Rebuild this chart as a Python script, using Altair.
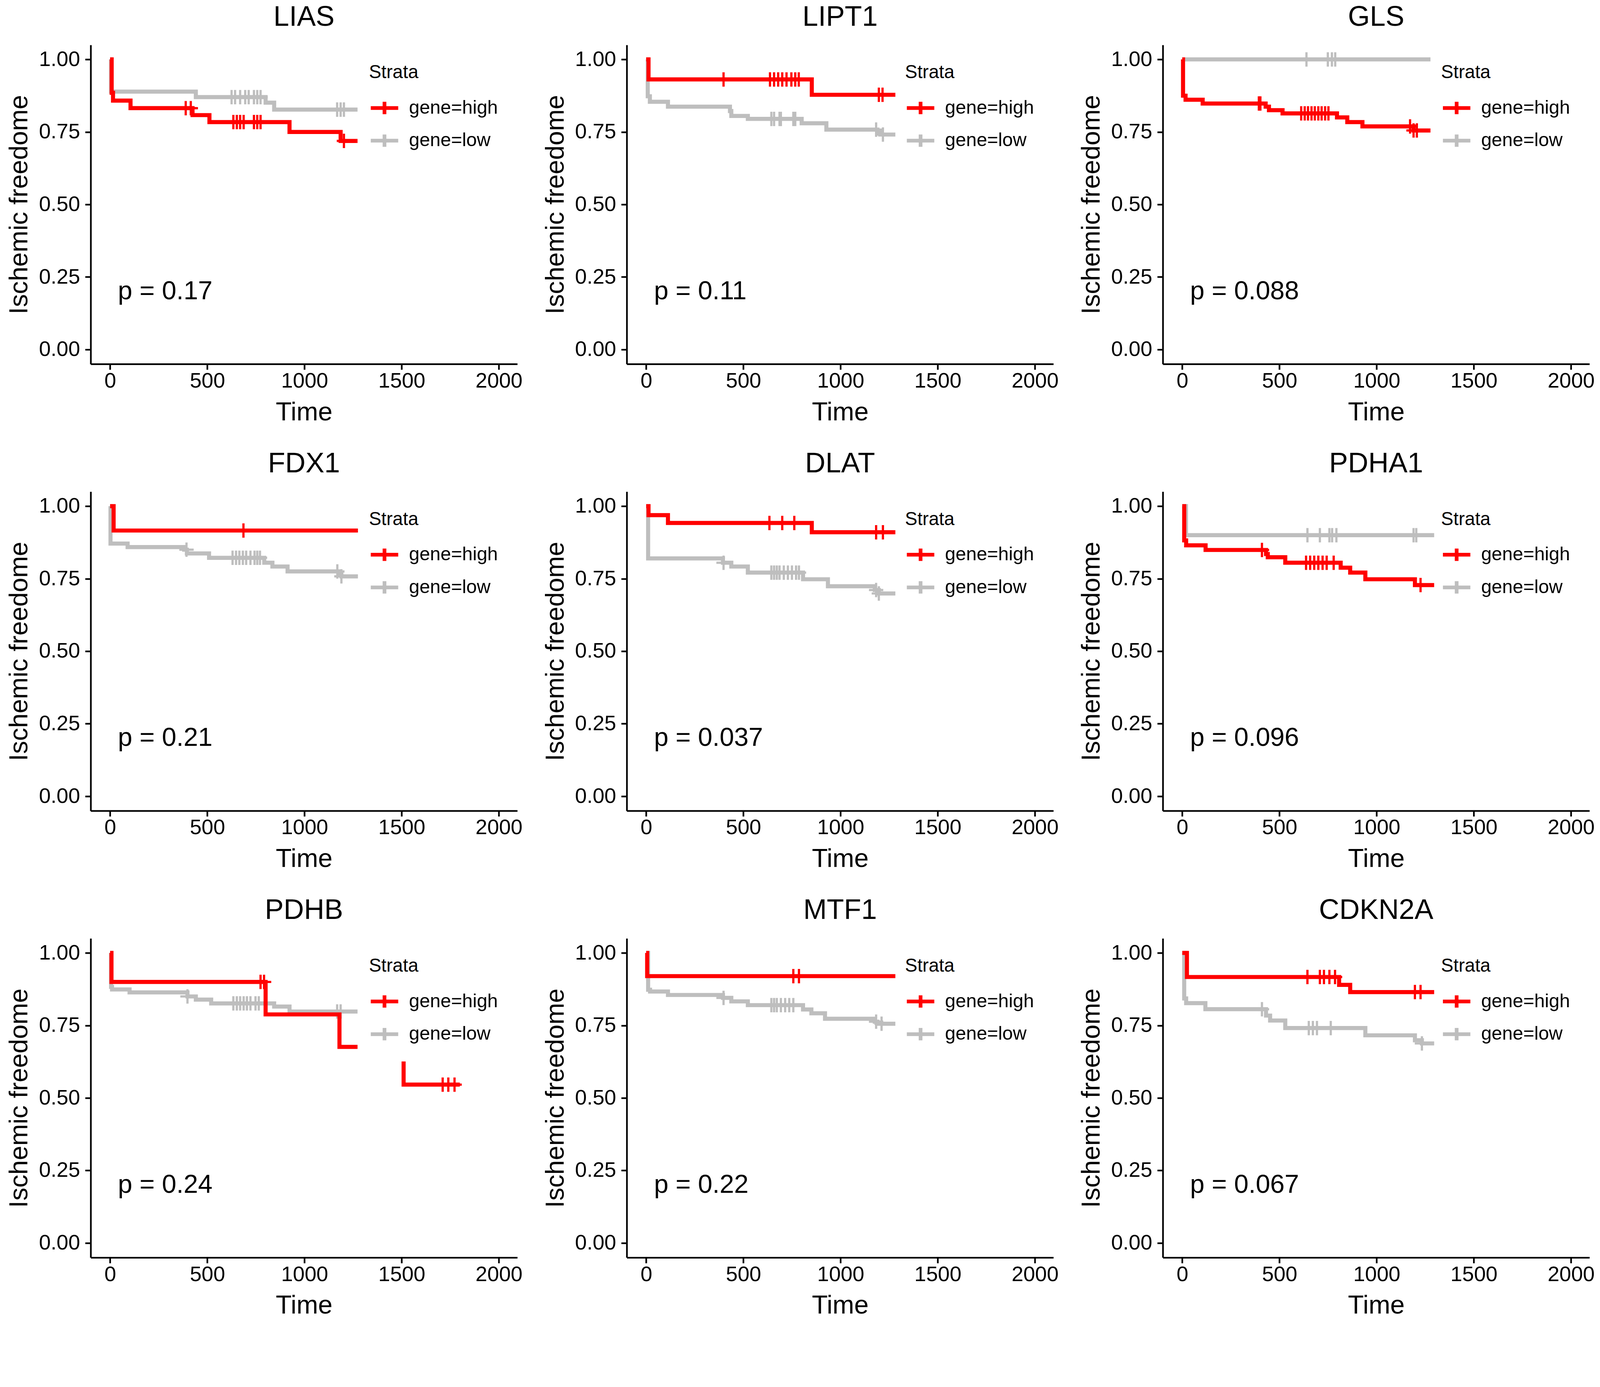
import altair as alt
import pandas as pd

FONT = "Liberation Sans"
GENES = ["LIAS", "LIPT1", "GLS", "FDX1", "DLAT", "PDHA1", "PDHB", "MTF1", "CDKN2A"]
P_LABELS = ["p = 0.17", "p = 0.11", "p = 0.088", "p = 0.21", "p = 0.037",
            "p = 0.096", "p = 0.24", "p = 0.22", "p = 0.067"]
STRATA = ["gene=high", "gene=low"]
COLORS = ["#FF0000", "#BEBEBE"]
X_TICKS = [0, 500, 1000, 1500, 2000]
Y_TICKS = [0, 0.25, 0.5, 0.75, 1.0]
PVAL_X = 40
PVAL_Y = 0.2

# ---- Kaplan-Meier step curves (visible parts), change points: time / survival ----
LIAS_HIGH_T = [0, 8, 15, 105, 424, 511, 923, 1186, 1273]
LIAS_HIGH_S = [1.0, 0.885, 0.858, 0.832, 0.808, 0.784, 0.750, 0.719, 0.719]
LIAS_HIGH_C = [389, 415, 634, 652, 669, 687, 740, 757, 774, 1203]
LIAS_LOW_T = [0, 5, 441, 800, 844, 1273]
LIAS_LOW_S = [1.0, 0.889, 0.870, 0.851, 0.827, 0.827]
LIAS_LOW_C = [625, 643, 669, 695, 713, 740, 757, 774, 1168, 1186, 1203]

LIPT1_HIGH_T = [0, 12, 852, 1282]
LIPT1_HIGH_S = [1.0, 0.931, 0.878, 0.878]
LIPT1_HIGH_C = [398, 637, 658, 679, 700, 722, 747, 767, 785, 1197, 1216]
LIPT1_LOW_T = [0, 8, 19, 112, 431, 438, 523, 800, 927, 1190, 1204, 1282]
LIPT1_LOW_S = [1.0, 0.873, 0.854, 0.837, 0.822, 0.805, 0.795, 0.780, 0.758, 0.750, 0.741, 0.741]
LIPT1_LOW_C = [644, 658, 686, 693, 757, 767, 1183, 1218]

GLS_HIGH_T = [0, 4, 17, 105, 429, 446, 516, 796, 849, 927, 1190, 1277]
GLS_HIGH_S = [1.0, 0.875, 0.861, 0.848, 0.837, 0.825, 0.814, 0.800, 0.784, 0.769, 0.755, 0.755]
GLS_HIGH_C = [394, 402, 612, 630, 647, 665, 682, 700, 717, 735, 752, 1172, 1190, 1207]
GLS_LOW_T = [0, 1277]
GLS_LOW_S = [1.0, 1.0]
GLS_LOW_C = [639, 749, 770, 787]

FDX1_HIGH_T = [0, 18, 1275]
FDX1_HIGH_S = [1.0, 0.916, 0.916]
FDX1_HIGH_C = [686]
FDX1_LOW_T = [0, 2, 90, 381, 395, 509, 793, 835, 913, 1176, 1190, 1275]
FDX1_LOW_S = [1.0, 0.871, 0.859, 0.850, 0.837, 0.822, 0.805, 0.792, 0.775, 0.767, 0.758, 0.758]
FDX1_LOW_C = [393, 630, 648, 665, 683, 700, 722, 743, 757, 771, 1169, 1190]

DLAT_HIGH_T = [0, 12, 112, 852, 1282]
DLAT_HIGH_S = [1.0, 0.969, 0.942, 0.910, 0.910]
DLAT_HIGH_C = [634, 700, 762, 1183, 1218]
DLAT_LOW_T = [0, 10, 395, 438, 523, 807, 935, 1176, 1197, 1282]
DLAT_LOW_S = [1.0, 0.820, 0.805, 0.792, 0.771, 0.748, 0.724, 0.711, 0.699, 0.699]
DLAT_LOW_C = [398, 644, 658, 672, 686, 708, 729, 750, 771, 786, 1183, 1197]

PDHA1_HIGH_T = [0, 10, 20, 120, 431, 440, 530, 815, 864, 942, 1197, 1296]
PDHA1_HIGH_S = [1.0, 0.882, 0.865, 0.849, 0.835, 0.824, 0.805, 0.788, 0.771, 0.748, 0.728, 0.728]
PDHA1_HIGH_C = [410, 637, 658, 679, 700, 722, 743, 779, 1226]
PDHA1_LOW_T = [0, 19, 1296]
PDHA1_LOW_S = [1.0, 0.900, 0.900]
PDHA1_LOW_C = [644, 708, 757, 771, 793, 1190, 1204]

PDHB_HIGH_T = [0, 7, 800, 1180, 1273]
PDHB_HIGH_S = [1.0, 0.900, 0.788, 0.676, 0.676]
PDHB_HIGH_T2 = [1510, 1510, 1799]
PDHB_HIGH_S2 = [0.626, 0.546, 0.546]
PDHB_HIGH_C = [774, 792, 1711, 1740, 1772]
PDHB_LOW_T = [0, 5, 10, 100, 398, 441, 520, 844, 923, 1273]
PDHB_LOW_S = [1.0, 0.883, 0.874, 0.864, 0.850, 0.839, 0.826, 0.815, 0.798, 0.798]
PDHB_LOW_C = [398, 634, 652, 669, 687, 704, 722, 748, 765, 1168, 1186]

MTF1_HIGH_T = [0, 5, 1282]
MTF1_HIGH_S = [1.0, 0.920, 0.920]
MTF1_HIGH_C = [757, 786]
MTF1_LOW_T = [0, 10, 20, 112, 395, 438, 523, 807, 850, 920, 1176, 1190, 1282]
MTF1_LOW_S = [1.0, 0.873, 0.867, 0.855, 0.845, 0.833, 0.820, 0.805, 0.792, 0.773, 0.763, 0.756, 0.756]
MTF1_LOW_C = [398, 644, 658, 672, 693, 715, 736, 757, 1183, 1211]

CDKN2A_HIGH_T = [0, 24, 807, 864, 1296]
CDKN2A_HIGH_S = [1.0, 0.917, 0.890, 0.865, 0.865]
CDKN2A_HIGH_C = [644, 708, 729, 757, 786, 1197, 1226]
CDKN2A_LOW_T = [0, 10, 20, 119, 431, 452, 530, 942, 1197, 1233, 1296]
CDKN2A_LOW_S = [1.0, 0.843, 0.827, 0.806, 0.784, 0.767, 0.741, 0.716, 0.699, 0.688, 0.688]
CDKN2A_LOW_C = [410, 651, 672, 693, 764, 1233]

CURVES = {
    "LIAS": [(LIAS_HIGH_T, LIAS_HIGH_S, LIAS_HIGH_C, [], []), (LIAS_LOW_T, LIAS_LOW_S, LIAS_LOW_C, [], [])],
    "LIPT1": [(LIPT1_HIGH_T, LIPT1_HIGH_S, LIPT1_HIGH_C, [], []), (LIPT1_LOW_T, LIPT1_LOW_S, LIPT1_LOW_C, [], [])],
    "GLS": [(GLS_HIGH_T, GLS_HIGH_S, GLS_HIGH_C, [], []), (GLS_LOW_T, GLS_LOW_S, GLS_LOW_C, [], [])],
    "FDX1": [(FDX1_HIGH_T, FDX1_HIGH_S, FDX1_HIGH_C, [], []), (FDX1_LOW_T, FDX1_LOW_S, FDX1_LOW_C, [], [])],
    "DLAT": [(DLAT_HIGH_T, DLAT_HIGH_S, DLAT_HIGH_C, [], []), (DLAT_LOW_T, DLAT_LOW_S, DLAT_LOW_C, [], [])],
    "PDHA1": [(PDHA1_HIGH_T, PDHA1_HIGH_S, PDHA1_HIGH_C, [], []), (PDHA1_LOW_T, PDHA1_LOW_S, PDHA1_LOW_C, [], [])],
    "PDHB": [(PDHB_HIGH_T, PDHB_HIGH_S, PDHB_HIGH_C, PDHB_HIGH_T2, PDHB_HIGH_S2), (PDHB_LOW_T, PDHB_LOW_S, PDHB_LOW_C, [], [])],
    "MTF1": [(MTF1_HIGH_T, MTF1_HIGH_S, MTF1_HIGH_C, [], []), (MTF1_LOW_T, MTF1_LOW_S, MTF1_LOW_C, [], [])],
    "CDKN2A": [(CDKN2A_HIGH_T, CDKN2A_HIGH_S, CDKN2A_HIGH_C, [], []), (CDKN2A_LOW_T, CDKN2A_LOW_S, CDKN2A_LOW_C, [], [])],
}


def surv_at(t, ts, ss):
    val = ss[0]
    for ti, si in zip(ts, ss):
        if ti <= t:
            val = si
    return val


line_rows, cens_rows = [], []
for gene in GENES:
    for strata, (ts, ss, cs, ts2, ss2) in zip(STRATA, CURVES[gene]):
        for t, s in zip(ts, ss):
            line_rows.append({"gene": gene, "strata": strata, "seg": 1, "time": t, "surv": s})
        for t, s in zip(ts2, ss2):
            line_rows.append({"gene": gene, "strata": strata, "seg": 2, "time": t, "surv": s})
        all_t, all_s = ts + ts2, ss + ss2
        for c in cs:
            cens_rows.append({"gene": gene, "strata": strata, "time": c, "surv": surv_at(c, all_t, all_s)})

lines_df = pd.DataFrame(line_rows)
cens_df = pd.DataFrame(cens_rows)
p_df = pd.DataFrame({"gene": GENES, "label": P_LABELS,
                     "time": [PVAL_X] * len(GENES), "surv": [PVAL_Y] * len(GENES)})

PLUS = "M0,-1L0,1M-1,0L1,0"
LEGEND_SYMBOL = "M-1,0L1,0M0,-0.45L0,0.45"


def panel(gene):
    x = alt.X("time:Q", scale=alt.Scale(domain=[-100, 2095], nice=False, zero=False),
              axis=alt.Axis(values=X_TICKS, format="d", title="Time"))
    y = alt.Y("surv:Q", scale=alt.Scale(domain=[-0.05, 1.05], nice=False, zero=False),
              axis=alt.Axis(values=Y_TICKS, format=".2f", title="Ischemic freedome"))
    color = alt.Color("strata:N", scale=alt.Scale(domain=STRATA, range=COLORS),
                      legend=alt.Legend(title="Strata", orient="none", legendX=750, legendY=50,
                                        symbolType=LEGEND_SYMBOL, symbolSize=5476,
                                        symbolStrokeWidth=10, labelFontSize=51, titleFontSize=50,
                                        titleFontWeight="normal", rowPadding=9, titlePadding=28,
                                        labelOffset=24, padding=0, labelLimit=800,
                                        labelFont=FONT, titleFont=FONT,
                                        labelColor="black", titleColor="black"))
    layers = []
    for st in ["gene=low", "gene=high"]:
        ln = alt.Chart(lines_df).transform_filter(
            (alt.datum.gene == gene) & (alt.datum.strata == st)
        ).mark_line(interpolate="step-after", strokeWidth=11).encode(
            x=x, y=y, color=color, detail="seg:N")
        pt = alt.Chart(cens_df).transform_filter(
            (alt.datum.gene == gene) & (alt.datum.strata == st)
        ).mark_point(shape=PLUS, filled=False, size=1500, strokeWidth=6, opacity=1).encode(
            x=x, y=y, color=color)
        layers += [ln, pt]
    txt = alt.Chart(p_df).transform_filter(alt.datum.gene == gene).mark_text(
        align="left", baseline="middle", fontSize=70, font=FONT, color="black"
    ).encode(x=x, y=y, text="label:N")
    return alt.layer(*layers, txt).properties(
        width=1150, height=860,
        title=alt.TitleParams(text=gene, fontSize=76, font=FONT, fontWeight="normal",
                              anchor="middle", frame="group", offset=36, color="black"))


chart = alt.concat(*[panel(g) for g in GENES], columns=3, bounds="flush",
                   spacing={"row": 344, "column": 295}).resolve_scale(
    color="independent").resolve_legend(color="independent").properties(
    padding={"left": 8, "top": -93, "right": 5, "bottom": 5}).configure_view(
    stroke="transparent").configure_axis(
    domainColor="black", domainWidth=4.5, tickColor="black", tickWidth=4.5, tickSize=15,
    labelFontSize=57, labelColor="black", titleFontSize=70, titleColor="black",
    titleFontWeight="normal", grid=False, labelFont=FONT, titleFont=FONT
).configure_axisY(labelPadding=14, titlePadding=16).configure_axisX(
    labelPadding=3, titlePadding=22)

chart.save("out.html", embed_options={"renderer": "svg", "actions": False})
